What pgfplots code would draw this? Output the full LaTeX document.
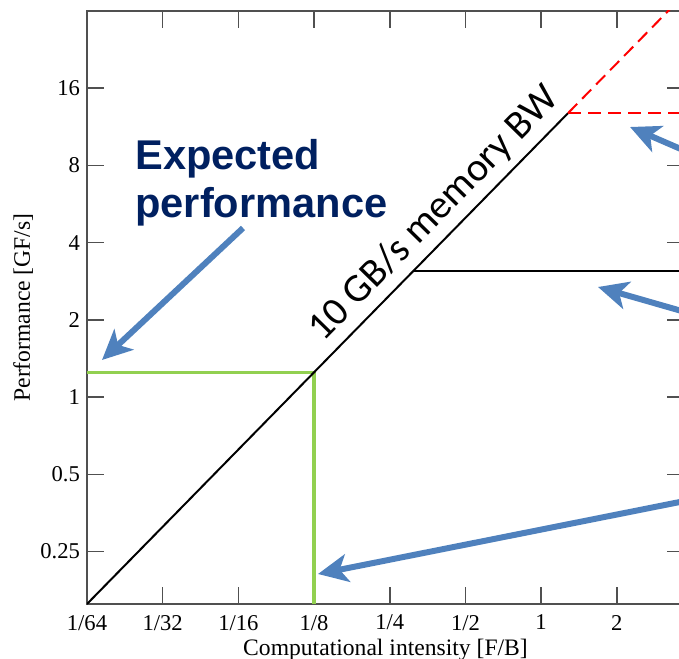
\documentclass[border=0pt]{standalone}
\usepackage{pgfplots}
\pgfplotsset{compat=1.18}
\usetikzlibrary{arrows.meta}
\usepackage{fontspec}
\setmainfont{Liberation Serif}
\newfontfamily\arialfont{Liberation Sans}
\newfontfamily\calibrifont{Carlito}
\definecolor{navy}{RGB}{0,32,96}
\definecolor{arrowblue}{RGB}{79,129,189}
\definecolor{lgreen}{RGB}{146,208,80}
\definecolor{spine}{RGB}{80,80,80}
\begin{document}
\begin{tikzpicture}
\path[use as bounding box] (-43.5pt,-27pt) rectangle (296pt,302pt);
\clip (-43.5pt,-27pt) rectangle (296pt,302pt);
\begin{axis}[
  scale only axis, width=298.5pt, height=296.5pt,
  xmode=log, ymode=log, log basis x=2, log basis y=2,
  xmin=0.015625, xmax=3.70, ymin=0.15625, ymax=32,
  xtick={0.015625,0.03125,0.0625,0.125,0.25,0.5,1,2},
  xticklabels={1/64,1/32,1/16,1/8,1/4,1/2,1,2},
  ytick={0.25,0.5,1,2,4,8,16},
  yticklabels={0.25,0.5,1,2,4,8,16},
  minor xtick={}, minor ytick={},
  tick align=inside, major tick length=8.5pt,
  axis line style={spine, line width=0.75pt},
  major tick style={spine, line width=0.75pt},
  tick label style={font=\fontsize{11.3}{13}\selectfont},
  xticklabel style={yshift=-2pt},
  xlabel={Computational intensity [F/B]},
  ylabel={Performance [GF/s]},
  label style={font=\fontsize{11.8}{14}\selectfont},
  xlabel style={at={(axis description cs:0.5,-0.087)}, anchor=base},
  ylabel style={at={(axis description cs:-0.0955,0.5)}, anchor=base},
]
\addplot[lgreen, line width=1.75pt] coordinates {(0.015625,1.25) (0.125,1.25) (0.125,0.15625)};
\addplot[black, line width=1pt] coordinates {(0.015625,0.15625) (1.28,12.8)};
\addplot[black, line width=1pt] coordinates {(0.31,3.1) (3.7,3.1)};
\addplot[red, line width=1pt, dash pattern=on 6.5pt off 3.5pt] coordinates {(1.28,12.8) (3.7,12.8)};
\addplot[red, line width=1pt, dash pattern=on 6.5pt off 3.5pt] coordinates {(1.28,12.8) (3.7,37)};
\end{axis}
\begin{scope}[shift={(-43.5pt,302pt)}, x=0.5pt, y=-0.5pt]
\draw[arrowblue, line width=3pt, -{Stealth[length=15pt,width=14pt,inset=4pt]}] (243,228) -- (102,360);
\draw[arrowblue, line width=3pt, -{Stealth[length=15pt,width=14pt,inset=4pt]}] (720,166) -- (630,127);
\draw[arrowblue, line width=3pt, -{Stealth[length=15pt,width=14pt,inset=4pt]}] (720,322) -- (598,287);
\draw[arrowblue, line width=3pt, -{Stealth[length=15pt,width=14pt,inset=4pt]}] (720,494) -- (318,574);
\node[anchor=base west, inner sep=0, text=navy, font=\arialfont\bfseries\fontsize{20.8}{24}\selectfont] at (135,170) {Expected};
\node[anchor=base west, inner sep=0, text=navy, font=\arialfont\bfseries\fontsize{20.8}{24}\selectfont] at (135,218) {performance};
\node[anchor=base west, inner sep=0, rotate=45.6, font=\calibrifont\fontsize{20}{24}\selectfont] at (323,343) {10 GB/s memory BW};
\end{scope}
\end{tikzpicture}
\end{document}
